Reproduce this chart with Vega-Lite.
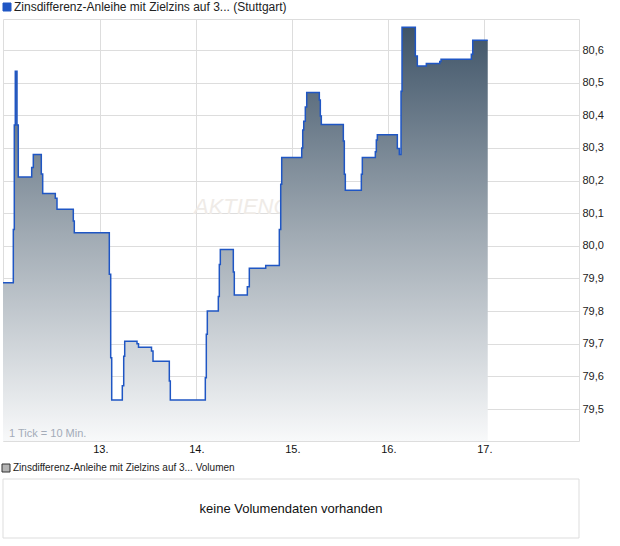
{
  "$schema": "https://vega.github.io/schema/vega-lite/v6.json",
  "padding": {"left": 0, "top": 0, "right": 0, "bottom": 0},
  "background": "white",
  "spacing": 8,
  "resolve": {"scale": {"color": "independent"}, "legend": {"color": "independent"}},
  "config": {
    "view": {"stroke": "#dddddd", "strokeWidth": 1},
    "font": "Liberation Sans",
    "axis": {"gridColor": "#dddddd", "gridWidth": 1, "domain": false, "ticks": false, "labelColor": "#222222", "labelFontSize": 11, "labelFont": "Liberation Sans", "title": null},
    "legend": {"labelFont": "Liberation Sans", "labelColor": "#222222", "labelLimit": 500}
  },
  "datasets": {
    "price": [
      {"t": -0.0135, "v": 79.887},
      {"t": 0.0938, "v": 80.05},
      {"t": 0.1042, "v": 80.37},
      {"t": 0.1146, "v": 80.535},
      {"t": 0.1323, "v": 80.37},
      {"t": 0.1458, "v": 80.211},
      {"t": 0.2854, "v": 80.24},
      {"t": 0.3021, "v": 80.28},
      {"t": 0.3854, "v": 80.22},
      {"t": 0.4, "v": 80.16},
      {"t": 0.5313, "v": 80.146},
      {"t": 0.549, "v": 80.112},
      {"t": 0.7188, "v": 80.076},
      {"t": 0.7292, "v": 80.04},
      {"t": 1.0938, "v": 79.913},
      {"t": 1.1083, "v": 79.657},
      {"t": 1.1188, "v": 79.528},
      {"t": 1.2292, "v": 79.571},
      {"t": 1.2438, "v": 79.662},
      {"t": 1.2542, "v": 79.708},
      {"t": 1.3823, "v": 79.7},
      {"t": 1.3979, "v": 79.689},
      {"t": 1.5333, "v": 79.678},
      {"t": 1.549, "v": 79.646},
      {"t": 1.7188, "v": 79.586},
      {"t": 1.7292, "v": 79.528},
      {"t": 2.0938, "v": 79.596},
      {"t": 2.1042, "v": 79.729},
      {"t": 2.1146, "v": 79.8},
      {"t": 2.2292, "v": 79.845},
      {"t": 2.2396, "v": 79.943},
      {"t": 2.25, "v": 79.989},
      {"t": 2.3854, "v": 79.92},
      {"t": 2.3958, "v": 79.849},
      {"t": 2.5313, "v": 79.875},
      {"t": 2.5521, "v": 79.931},
      {"t": 2.7229, "v": 79.94},
      {"t": 2.8646, "v": 80.05},
      {"t": 2.8792, "v": 80.189},
      {"t": 2.8896, "v": 80.271},
      {"t": 3.0979, "v": 80.3},
      {"t": 3.1083, "v": 80.355},
      {"t": 3.1188, "v": 80.382},
      {"t": 3.1354, "v": 80.425},
      {"t": 3.15, "v": 80.47},
      {"t": 3.2813, "v": 80.447},
      {"t": 3.2917, "v": 80.398},
      {"t": 3.3021, "v": 80.372},
      {"t": 3.5313, "v": 80.321},
      {"t": 3.5417, "v": 80.219},
      {"t": 3.5521, "v": 80.17},
      {"t": 3.7188, "v": 80.219},
      {"t": 3.7292, "v": 80.271},
      {"t": 3.8646, "v": 80.288},
      {"t": 3.875, "v": 80.324},
      {"t": 3.8854, "v": 80.34},
      {"t": 4.0938, "v": 80.298},
      {"t": 4.1146, "v": 80.28},
      {"t": 4.1323, "v": 80.474},
      {"t": 4.1427, "v": 80.67},
      {"t": 4.2813, "v": 80.582},
      {"t": 4.3021, "v": 80.551},
      {"t": 4.3958, "v": 80.559},
      {"t": 4.5354, "v": 80.565},
      {"t": 4.549, "v": 80.572},
      {"t": 4.8646, "v": 80.587},
      {"t": 4.8792, "v": 80.63},
      {"t": 5.0354, "v": 80.63}
    ]
  },
  "vconcat": [
    {
      "width": 576,
      "height": 422,
      "encoding": {
        "x": {
          "field": "t", "type": "quantitative",
          "scale": {"domain": [-0.0135, 5.986], "nice": false, "zero": false},
          "axis": {"values": [1, 2, 3, 4, 5], "labelExpr": "(datum.value + 12) + '.'", "labelPadding": 2, "labelAlign": "center", "labelColor": "#111111", "title": null}
        },
        "y": {
          "field": "v", "type": "quantitative",
          "scale": {"domain": [79.402, 80.695], "nice": false, "zero": false},
          "axis": {"orient": "right", "values": [79.5, 79.6, 79.7, 79.8, 79.9, 80.0, 80.1, 80.2, 80.3, 80.4, 80.5, 80.6], "labelExpr": "replace(format(datum.value, '.1f'), '.', ',')", "labelPadding": 3, "title": null}
        }
      },
      "layer": [
        {
          "data": {"values": [{"t": 1.976, "v": 80.0976, "label": "AKTIENCHECK"}]},
          "mark": {"type": "text", "fontSize": 22, "fontStyle": "italic", "color": "#efebe7", "align": "left", "baseline": "alphabetic"},
          "encoding": {"text": {"field": "label"}}
        },
        {
          "data": {"name": "price"},
          "mark": {
            "type": "area", "interpolate": "step-after", "clip": true,
            "fill": {"gradient": "linear", "x1": 0, "y1": 0, "x2": 0, "y2": 1,
              "stops": [{"offset": 0, "color": "#3f5468"}, {"offset": 0.5, "color": "#a0aab3"}, {"offset": 1, "color": "#f8f9fa"}]}
          },
          "encoding": {"y2": {"datum": 79.402}}
        },
        {
          "data": {"name": "price"},
          "mark": {"type": "line", "interpolate": "step-after", "strokeWidth": 1.5, "clip": true},
          "encoding": {
            "color": {
              "datum": "Zinsdifferenz-Anleihe mit Zielzins auf 3... (Stuttgart)",
              "scale": {"range": ["#1f56c4"]},
              "legend": {"orient": "none", "legendX": -2, "legendY": -18, "title": null, "symbolType": "square", "symbolSize": 64, "symbolFillColor": "#1f56c4", "symbolStrokeColor": "#1a2a4a", "symbolStrokeWidth": 1, "labelFontSize": 12, "labelOffset": 1, "padding": 0}
            }
          }
        },
        {
          "data": {"values": [{"t": 0.049, "v": 79.413, "label": "1 Tick = 10 Min."}]},
          "mark": {"type": "text", "fontSize": 11, "color": "#a3abb8", "align": "left", "baseline": "alphabetic"},
          "encoding": {"text": {"field": "label"}}
        }
      ]
    },
    {
      "width": 576,
      "height": 59,
      "data": {"values": [{"msg": "keine Volumendaten vorhanden"}]},
      "layer": [
        {
          "mark": {"type": "rect", "fill": null, "fillOpacity": 0, "stroke": "#dddddd", "strokeWidth": 1}
        },
        {
          "mark": {"type": "text", "fontSize": 13, "color": "#111111"},
          "encoding": {"text": {"field": "msg"}}
        },
        {
          "mark": {"type": "point", "shape": "square", "filled": true, "opacity": 0},
          "encoding": {
            "color": {
              "datum": "Zinsdifferenz-Anleihe mit Zielzins auf 3... Volumen",
              "scale": {"range": ["#b4b4b4"]},
              "legend": {"orient": "none", "legendX": -2, "legendY": -16, "title": null, "symbolType": "square", "symbolSize": 64, "symbolOpacity": 1, "symbolStrokeColor": "#333333", "symbolStrokeWidth": 1, "labelFontSize": 10, "labelOffset": 2, "padding": 0}
            }
          }
        }
      ]
    }
  ]
}
